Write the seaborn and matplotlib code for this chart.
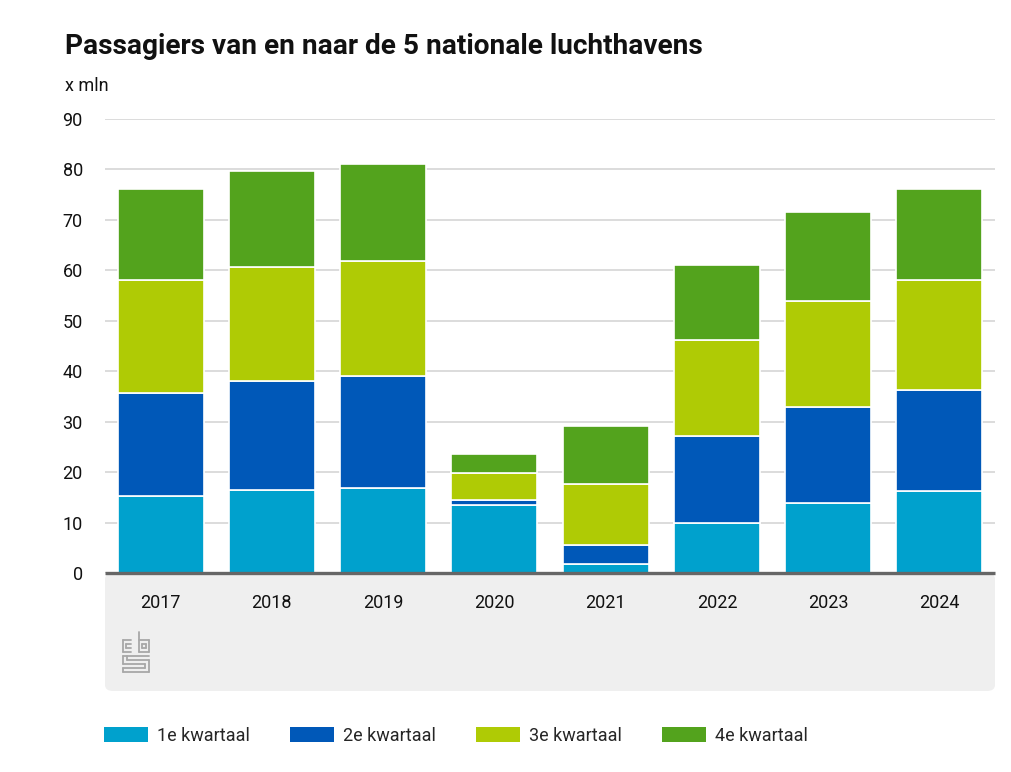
import matplotlib
matplotlib.use("Agg")
import matplotlib.pyplot as plt
import seaborn as sns
import numpy as np
from matplotlib.patches import FancyBboxPatch, Rectangle
from matplotlib.lines import Line2D
from matplotlib import font_manager

years = ["2017", "2018", "2019", "2020", "2021", "2022", "2023", "2024"]
q1 = [15.2, 16.4, 16.9, 13.4, 1.8, 9.9, 13.9, 16.2]
q2 = [20.4, 21.6, 22.1, 1.0, 3.8, 17.3, 19.1, 20.0]
q3 = [22.5, 22.7, 22.9, 5.4, 12.1, 19.0, 21.0, 21.9]
q4 = [18.1, 18.9, 19.2, 3.8, 11.4, 14.8, 17.5, 18.1]
series_names = ["1e kwartaal", "2e kwartaal", "3e kwartaal", "4e kwartaal"]
colors = ["#00A1CD", "#0058B8", "#AFCB05", "#53A31D"]
yticks = [0, 10, 20, 30, 40, 50, 60, 70, 80, 90]

sns.set_theme(style="white")
avail = {f.name for f in font_manager.fontManager.ttflist}
fam = "Liberation Sans Narrow" if "Liberation Sans Narrow" in avail else "Roboto"
plt.rcParams["font.family"] = [fam, "DejaVu Sans"]

W, H = 1011, 772
fig = plt.figure(figsize=(W / 100, H / 100), dpi=100)

# grey band under the axis
band = FancyBboxPatch((105 / W, (H - 691) / H), 890 / W, (691 - 573) / H,
                      boxstyle="round,pad=0,rounding_size=0.008",
                      transform=fig.transFigure, facecolor="#efefef",
                      edgecolor="none", zorder=-5)
fig.patches.append(band)

ax = fig.add_axes([105 / W, (H - 573) / H, 890 / W, (573 - 119) / H])
ax.set_zorder(2)

bottom = np.zeros(len(years))
for vals, name, col in zip([q1, q2, q3, q4], series_names, colors):
    sns.barplot(x=years, y=vals, bottom=bottom, color=col, width=0.775,
                saturation=1, edgecolor="white", linewidth=1.2, ax=ax,
                label=name, zorder=3)
    bottom = bottom + np.array(vals)

ax.set_ylim(0, 90)
ax.set_xlim(-0.5, len(years) - 0.5)
ax.set_yticks(yticks)
ax.yaxis.grid(True, color="#d6d6d6", linewidth=1.2, zorder=0)
ax.set_axisbelow(True)
for s in ["top", "right", "left"]:
    ax.spines[s].set_visible(False)
ax.spines["bottom"].set_color("#666666")
ax.spines["bottom"].set_linewidth(2.4)
ax.spines["bottom"].set_capstyle("butt")
ax.spines["bottom"].set_zorder(5)
ax.tick_params(axis="y", length=0, pad=16, labelsize=13, labelcolor="#111111")
ax.tick_params(axis="x", length=0, pad=15, labelsize=13, labelcolor="#111111")
ax.set_xlabel("")
ax.set_ylabel("")
ax.patch.set_alpha(0)
if ax.get_legend():
    ax.get_legend().remove()

fig.text(65 / W, 1 - 47 / H, "Passagiers van en naar de 5 nationale luchthavens",
         fontsize=20.2, fontweight="bold", va="center", ha="left", color="#111111")
fig.text(65 / W, 1 - 86 / H, "x mln", fontsize=13, va="center", ha="left",
         color="#111111")

# legend
handles = [Rectangle((0, 0), 1, 1, facecolor=c, edgecolor="none") for c in colors]
fig.legend(handles, series_names, loc="center left",
           bbox_to_anchor=(104 / W, 1 - 736 / H), ncol=4, frameon=False,
           fontsize=13, handlelength=2.45, handleheight=0.9, handletextpad=0.5,
           columnspacing=2.2, borderaxespad=0, borderpad=0)

# simple cbs logo
lc = "#a8a8a8"
lw = 1.3
def seg(x0, y0, x1, y1):
    fig.add_artist(Line2D([x0 / W, x1 / W], [1 - y0 / H, 1 - y1 / H], color=lc,
                          linewidth=lw, transform=fig.transFigure))
# 'c'
for (a, b, c_, d) in [(123, 640, 123, 652), (123, 652, 131, 652), (123, 640, 131, 640),
                      (126, 644, 131, 644), (126, 648, 131, 648), (126, 644, 126, 648)]:
    seg(a, b, c_, d)
# 'b'
for (a, b, c_, d) in [(139, 632, 139, 652), (139, 652, 149, 652), (149, 652, 149, 640),
                      (149, 640, 139, 640), (142, 644, 146, 644), (146, 644, 146, 648),
                      (146, 648, 142, 648), (142, 648, 142, 644)]:
    seg(a, b, c_, d)
# 's'
for (a, b, c_, d) in [(123, 656, 149, 656), (123, 656, 123, 664), (123, 664, 145, 664),
                      (145, 664, 145, 668), (145, 668, 123, 668), (123, 668, 123, 672),
                      (123, 672, 149, 672), (149, 672, 149, 660), (149, 660, 127, 660),
                      (127, 660, 127, 656)]:
    seg(a, b, c_, d)

fig.savefig("out.png", dpi=100)
